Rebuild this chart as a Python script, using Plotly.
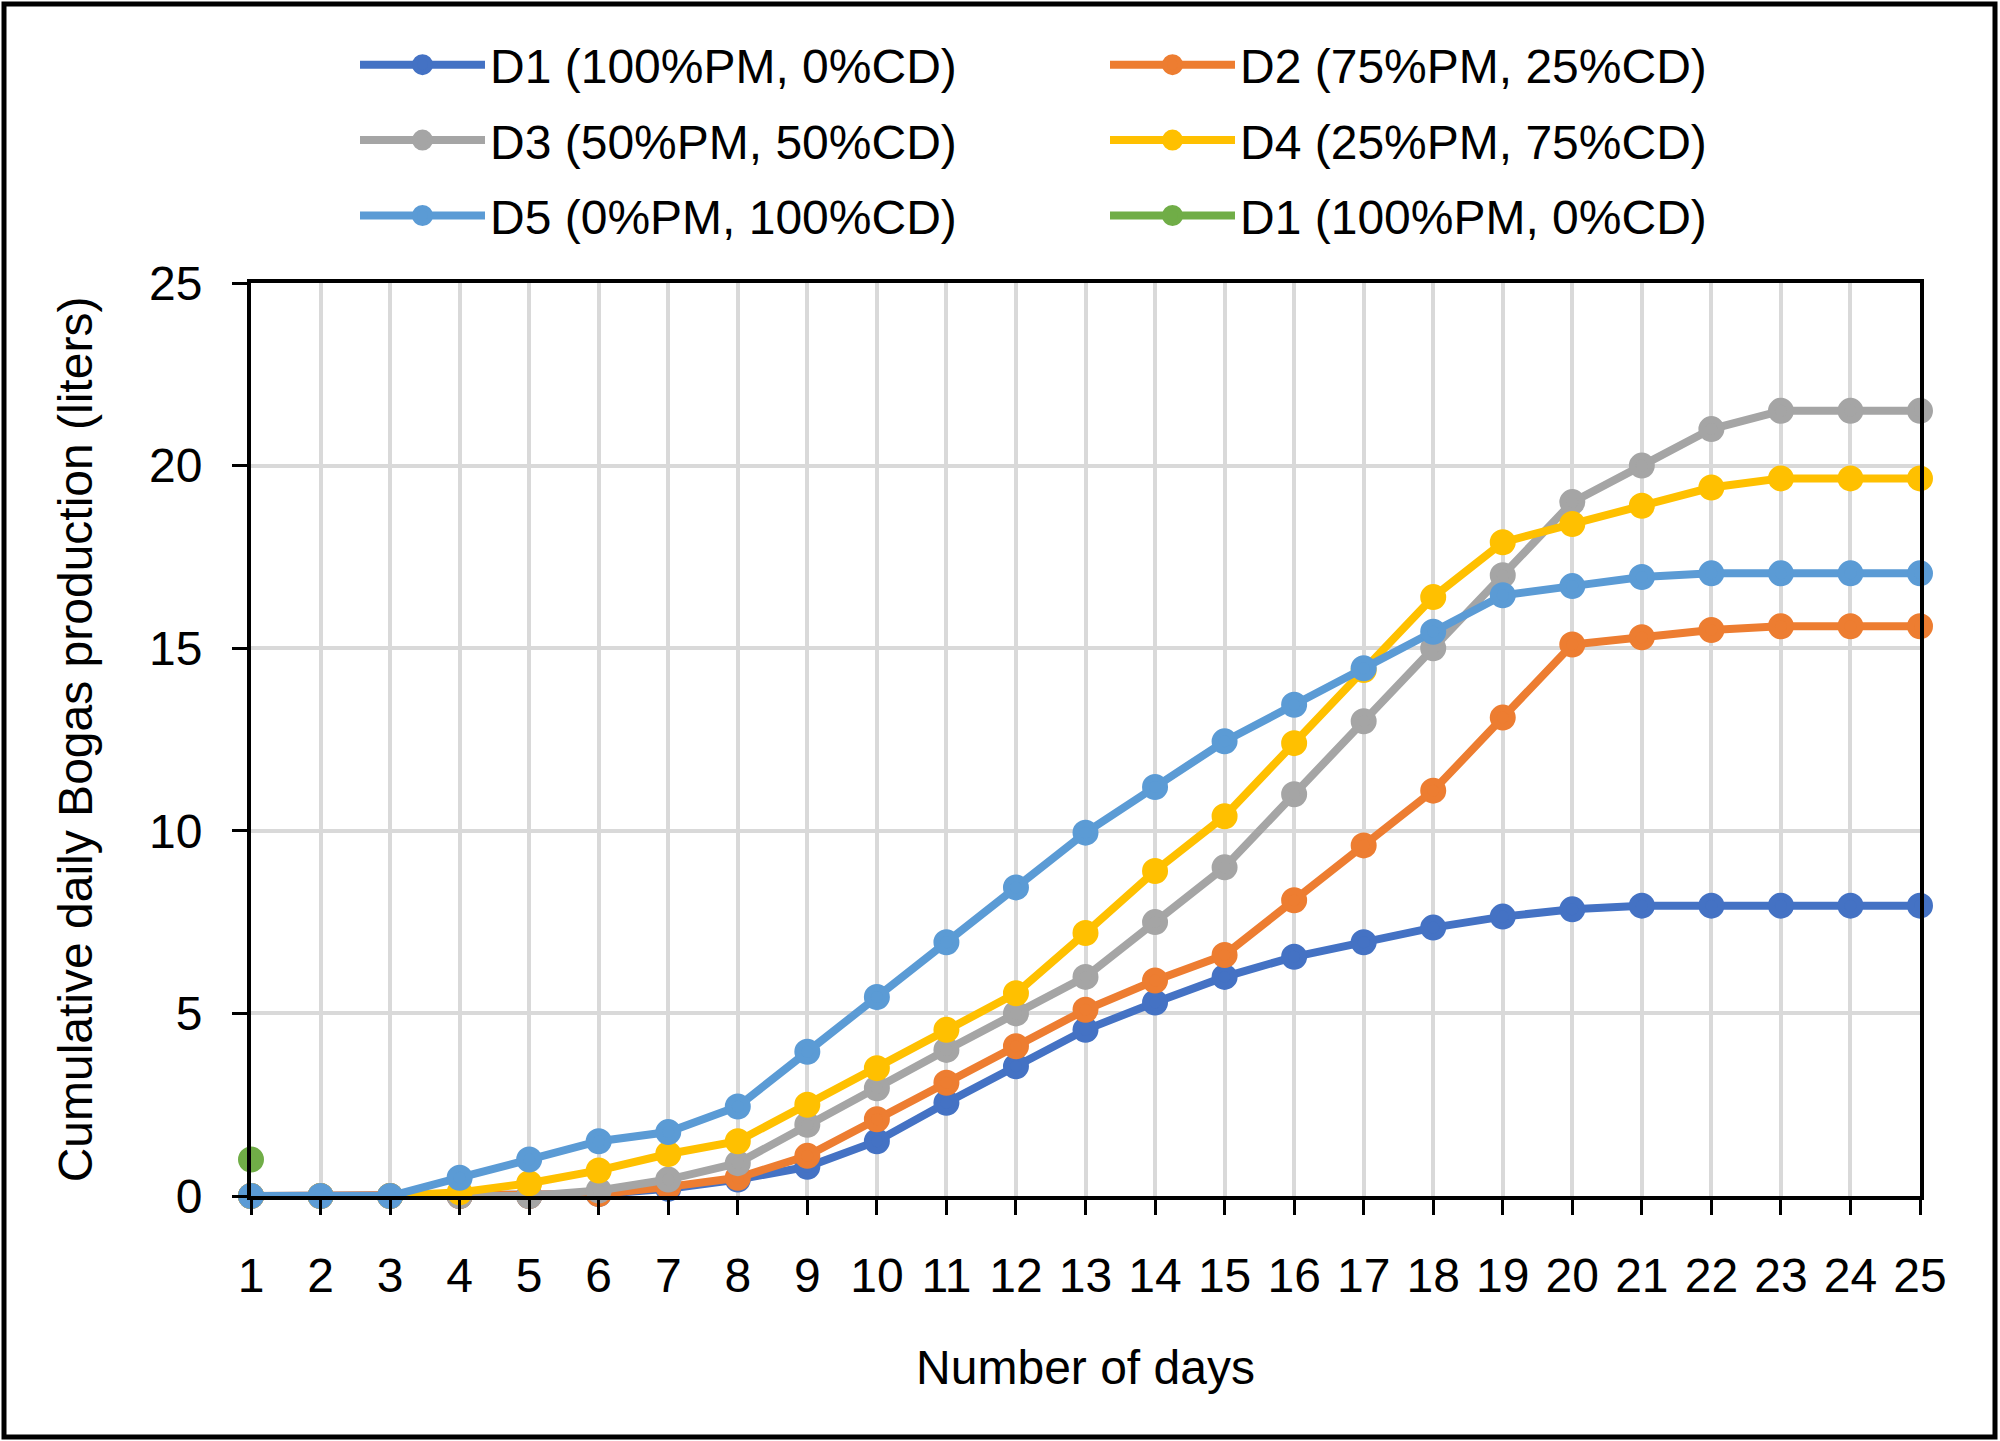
import plotly.graph_objects as go

days = list(range(1, 26))
d1 = [0, 0, 0, 0, 0, 0.05, 0.2, 0.45, 0.8, 1.5, 2.55, 3.55, 4.55, 5.3, 6.0, 6.55, 6.95, 7.35, 7.65, 7.85, 7.95, 7.95, 7.95, 7.95, 7.95]
d2 = [0, 0, 0, 0, 0, 0.05, 0.25, 0.5, 1.1, 2.1, 3.1, 4.1, 5.1, 5.9, 6.6, 8.1, 9.6, 11.1, 13.1, 15.1, 15.3, 15.5, 15.6, 15.6, 15.6]
d3 = [0, 0, 0, 0, 0, 0.15, 0.45, 0.9, 1.95, 2.95, 4.0, 5.0, 6.0, 7.5, 9.0, 11.0, 13.0, 15.0, 17.0, 19.0, 20.0, 21.0, 21.5, 21.5, 21.5]
d4 = [0, 0, 0, 0.1, 0.35, 0.7, 1.15, 1.5, 2.5, 3.5, 4.55, 5.55, 7.2, 8.9, 10.4, 12.4, 14.4, 16.4, 17.9, 18.4, 18.9, 19.4, 19.65, 19.65, 19.65]
d5 = [0, 0, 0, 0.5, 1.0, 1.5, 1.75, 2.45, 3.95, 5.45, 6.95, 8.45, 9.95, 11.2, 12.45, 13.45, 14.45, 15.45, 16.45, 16.7, 16.95, 17.05, 17.05, 17.05, 17.05]
d1_green = [1.0] + [None] * 24

names = ["D1 (100%PM, 0%CD)", "D2 (75%PM, 25%CD)", "D3 (50%PM, 50%CD)",
         "D4 (25%PM, 75%CD)", "D5 (0%PM, 100%CD)", "D1 (100%PM, 0%CD)"]
colors = ["#4472C4", "#ED7D31", "#A5A5A5", "#FFC000", "#5B9BD5", "#70AD47"]
series = [d1, d2, d3, d4, d5, d1_green]
legend_ids = ["legend", "legend2", "legend", "legend2", "legend", "legend2"]

FONT = "Liberation Sans, Arial, sans-serif"
fig = go.Figure()
for i, (nm, col, ys, lg) in enumerate(zip(names, colors, series, legend_ids)):
    fig.add_trace(go.Scatter(
        x=days, y=ys, name=nm, mode="lines+markers",
        line=dict(color=col, width=8),
        marker=dict(color=col, size=19, line=dict(color=col, width=7)),
        legend=lg, legendgroup=f"g{i}", cliponaxis=False,
    ))

L, R, T, B = 251, 80, 283, 245
W, H = 2000 - L - R, 1441 - T - B

def px_x(p):
    return (p - L) / W

def px_y(p):
    return (1441 - B - p) / H

legend_common = dict(
    orientation="v", font=dict(family=FONT, size=48, color="black"),
    bgcolor="rgba(0,0,0,0)", itemwidth=125, tracegroupgap=10,
    xanchor="left", yanchor="top", itemsizing="trace",
)

fig.update_layout(
    width=2000, height=1441,
    margin=dict(l=L, r=R, t=T, b=B, autoexpand=False),
    paper_bgcolor="white", plot_bgcolor="white",
    font=dict(family=FONT, size=48, color="black"),
    legend=dict(x=px_x(355), y=px_y(27), **legend_common),
    legend2=dict(x=px_x(1105), y=px_y(27), **legend_common),
    xaxis=dict(
        range=[1, 25], tickmode="array", tickvals=days, ticktext=[str(d) for d in days],
        showgrid=True, gridcolor="#D9D9D9", gridwidth=4,
        showline=True, linecolor="black", linewidth=4, mirror=True,
        ticks="outside", ticklen=15, tickwidth=3, tickcolor="black",
        tickfont=dict(family=FONT, size=48, color="black"),
        ticklabelstandoff=19,
        title=dict(text="Number of days", font=dict(family=FONT, size=48, color="black"), standoff=51),
        zeroline=False,
    ),
    yaxis=dict(
        range=[0, 25], tickmode="linear", tick0=0, dtick=5,
        showgrid=True, gridcolor="#D9D9D9", gridwidth=4,
        showline=True, linecolor="black", linewidth=4, mirror=True,
        ticks="outside", ticklen=15, tickwidth=3, tickcolor="black",
        tickfont=dict(family=FONT, size=48, color="black"),
        ticklabelstandoff=20,
        title=dict(text="Cumulative daily Bogas production (liters)", font=dict(family=FONT, size=48, color="black"), standoff=42),
        zeroline=False,
    ),
    shapes=[dict(type="rect", xref="paper", yref="paper",
                 x0=px_x(4), x1=px_x(1995), y0=px_y(1437), y1=px_y(4),
                 line=dict(color="black", width=5), fillcolor="rgba(0,0,0,0)", layer="above")],
    showlegend=True,
)

fig.write_html("out.html", config={"displayModeBar": False},
               post_script="document.body.style.margin='0';document.body.style.overflow='hidden';")
